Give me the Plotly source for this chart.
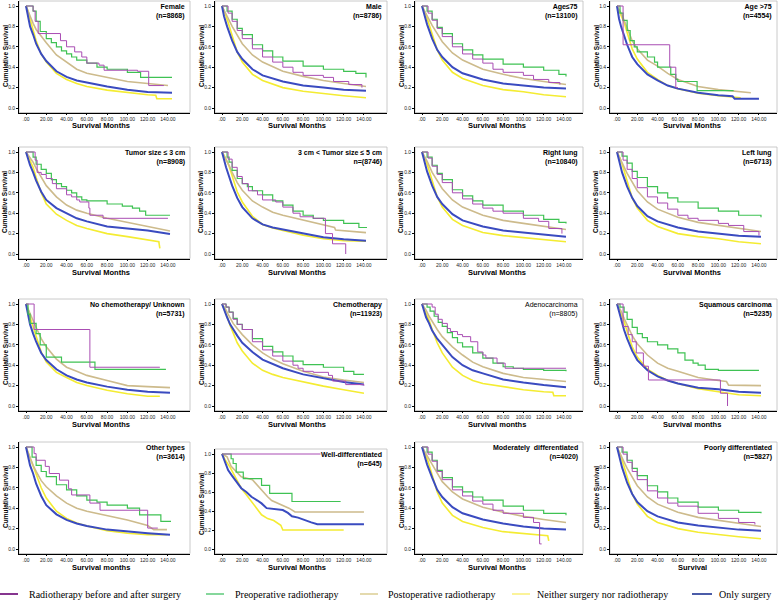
import plotly.graph_objects as go

# ---------------- data (months, cumulative survival) ----------------
PANEL_LABELS = ["Female", "Male", "Age≤75", "Age >75",
                "Tumor size ≤ 3 cm", "3 cm < Tumor size ≤ 5 cm", "Right lung", "Left lung",
                "No chemotherapy/ Unknown", "Chemotherapy", "Adenocarcinoma", "Squamous carcinoma",
                "Other types", "Well-differentiated", "Moderately  differentiated", "Poorly differentiated"]
N_LABELS = ["(n=8868)", "(n=8786)", "(n=13100)", "(n=4554)",
            "(n=8908)", "n=(8746)", "(n=10840)", "(n=6713)",
            "(n=5731)", "(n=11923)", "(n=8805)", "(n=5235)",
            "(n=3614)", "(n=645)", "(n=4020)", "(n=5827)"]
X_TITLES = ["Survival Months"] * 10 + ["Survival months", "Survival months",
            "Survival months", "Survival Months", "Survival Months", "Survival"]
SERIES_NAMES = ["Radiotherapy before and after surgery", "Preoperative radiotherapy",
                "Postoperative radiotherapy", "Neither surgery nor radiotherapy", "Only surgery"]
X_TICKS = [0, 20, 40, 60, 80, 100, 120, 140]
X_TICK_TEXT = [".00", "20.00", "40.00", "60.00", "80.00", "100.00", "120.00", "140.00"]
Y_TICKS = [0, 0.2, 0.4, 0.6, 0.8, 1.0]
Y_TICK_TEXT = ["0.0", "0.2", "0.4", "0.6", "0.8", "1.0"]

# Radiotherapy before and after surgery (purple)
BOTH = [
    [(0,1),(7,0.95),(9,0.85),(12,0.73),(34,0.66),(40,0.6),(48,0.55),(55,0.5),(60,0.44),(72,0.42),(77,0.37),(110,0.36),(121,0.22),(136,0.22)],
    [(0,1),(6,0.93),(10,0.85),(15,0.76),(20,0.68),(30,0.58),(40,0.5),(50,0.45),(60,0.4),(70,0.35),(80,0.32),(100,0.3),(110,0.26),(125,0.23),(138,0.2)],
    [(0,1),(6,0.93),(10,0.86),(15,0.78),(20,0.7),(30,0.6),(40,0.53),(50,0.48),(60,0.44),(70,0.38),(80,0.35),(100,0.32),(110,0.28),(125,0.25),(136,0.23)],
    [(0,1),(6,0.62),(52,0.4),(58,0.2),(60,0.2)],
    [(0,1),(9,0.92),(11,0.8),(15,0.78),(20,0.74),(26,0.69),(30,0.64),(40,0.58),(45,0.56),(50,0.53),(53,0.51),(62,0.45),(63,0.38),(76,0.35),(140,0.35)],
    [(0,1),(6,0.93),(10,0.85),(15,0.76),(20,0.69),(26,0.62),(35,0.58),(40,0.53),(53,0.51),(60,0.46),(70,0.4),(77,0.365),(90,0.35),(102,0.2),(109,0.1),(122,0.0)],
    [(0,1),(6,0.94),(10,0.86),(15,0.78),(20,0.7),(30,0.6),(40,0.54),(50,0.49),(60,0.45),(70,0.42),(80,0.4),(100,0.35),(115,0.32),(125,0.25),(138,0.2)],
    [(0,1),(6,0.92),(10,0.83),(15,0.74),(20,0.65),(30,0.56),(40,0.5),(50,0.44),(60,0.38),(70,0.35),(80,0.33),(100,0.3),(110,0.28),(125,0.22),(140,0.18)],
    [(0,1),(8,0.75),(63,0.38),(132,0.38)],
    [(0,1),(4,0.97),(7,0.92),(11,0.85),(15,0.8),(20,0.75),(30,0.63),(40,0.55),(50,0.49),(60,0.44),(70,0.4),(75,0.37),(80,0.34),(90,0.33),(105,0.3),(109,0.245),(122,0.21),(140,0.2)],
    [(0,1),(10,0.97),(13,0.9),(16,0.85),(20,0.81),(25,0.76),(28,0.73),(35,0.7),(40,0.68),(48,0.63),(55,0.53),(60,0.5),(63,0.47),(74,0.42),(82,0.37),(142,0.37)],
    [(0,1),(6,0.78),(11,0.70),(15,0.63),(19,0.52),(26,0.39),(31,0.255),(102,0.125),(109,0.0)],
    [(0,1),(8,0.935),(10,0.87),(19,0.81),(23,0.74),(33,0.675),(42,0.59),(45,0.53),(63,0.45),(73,0.38),(120,0.205),(130,0.205)],
    [(0,1),(105,1.0)],
    [(0,1),(6,0.93),(10,0.86),(15,0.76),(20,0.68),(30,0.58),(40,0.52),(50,0.47),(60,0.44),(70,0.38),(80,0.35),(100,0.31),(110,0.26),(116,0.05),(118,0.05)],
    [(0,1),(6,0.93),(10,0.85),(15,0.76),(20,0.68),(30,0.57),(40,0.5),(50,0.45),(60,0.42),(80,0.35),(100,0.3),(120,0.26),(136,0.24)],
]
# Preoperative radiotherapy (green)
PRE = [
    [(0,1),(7,0.95),(10,0.85),(14,0.75),(20,0.68),(25,0.64),(30,0.6),(35,0.56),(40,0.53),(45,0.5),(50,0.47),(60,0.44),(70,0.4),(80,0.38),(100,0.35),(113,0.30),(144,0.30)],
    [(0,1),(5,0.95),(10,0.87),(15,0.78),(20,0.72),(30,0.62),(40,0.56),(50,0.5),(60,0.46),(80,0.41),(100,0.38),(120,0.36),(132,0.34),(142,0.3)],
    [(0,1),(5,0.95),(10,0.87),(15,0.79),(20,0.73),(30,0.63),(40,0.57),(50,0.52),(60,0.48),(80,0.43),(100,0.4),(120,0.37),(135,0.33),(142,0.31)],
    [(0,1),(3,0.93),(6,0.86),(10,0.76),(13,0.66),(17,0.6),(20,0.55),(30,0.5),(37,0.45),(40,0.4),(53,0.33),(58,0.28),(60,0.26),(79,0.17),(115,0.17)],
    [(0,1),(7,0.95),(10,0.88),(15,0.83),(20,0.79),(25,0.73),(30,0.69),(35,0.66),(40,0.625),(45,0.6),(50,0.56),(55,0.53),(60,0.52),(80,0.49),(95,0.47),(105,0.45),(112,0.42),(118,0.38),(142,0.38)],
    [(0,1),(5,0.95),(7,0.9),(10,0.82),(15,0.74),(20,0.69),(25,0.66),(30,0.62),(40,0.58),(50,0.52),(60,0.48),(70,0.42),(80,0.38),(90,0.35),(100,0.33),(120,0.30),(135,0.26),(143,0.26)],
    [(0,1),(5,0.95),(10,0.87),(15,0.79),(20,0.73),(30,0.63),(40,0.57),(50,0.52),(60,0.48),(80,0.42),(100,0.38),(120,0.34),(135,0.31),(142,0.3)],
    [(0,1),(5,0.96),(10,0.89),(15,0.81),(20,0.75),(30,0.66),(40,0.6),(50,0.55),(60,0.51),(80,0.45),(100,0.42),(120,0.38),(142,0.36)],
    [(0,1),(2,0.9),(4,0.81),(10,0.71),(14,0.6),(20,0.48),(35,0.43),(68,0.36),(138,0.36)],
    [(0,1),(4,0.97),(7,0.92),(11,0.86),(15,0.8),(20,0.75),(30,0.66),(40,0.585),(50,0.53),(60,0.49),(70,0.44),(80,0.405),(100,0.38),(120,0.34),(130,0.31),(140,0.31)],
    [(0,1),(5,0.97),(8,0.93),(12,0.88),(16,0.82),(20,0.78),(25,0.72),(30,0.67),(35,0.62),(40,0.58),(50,0.52),(60,0.47),(70,0.42),(80,0.385),(90,0.37),(100,0.36),(120,0.35),(142,0.34)],
    [(0,1),(3,0.97),(7,0.92),(10,0.85),(15,0.77),(20,0.71),(25,0.67),(30,0.63),(40,0.6),(50,0.56),(60,0.52),(67,0.45),(75,0.42),(80,0.40),(87,0.36),(100,0.35),(140,0.35)],
    [(0,1),(6,0.9),(10,0.82),(15,0.76),(20,0.71),(30,0.63),(40,0.58),(50,0.52),(60,0.48),(70,0.46),(80,0.43),(100,0.40),(112,0.335),(133,0.27),(143,0.27)],
    [(0,1),(9,0.95),(11,0.90),(14,0.81),(21,0.74),(39,0.67),(47,0.585),(69,0.50),(117,0.50)],
    [(0,1),(5,0.95),(10,0.87),(15,0.77),(20,0.7),(30,0.61),(40,0.56),(50,0.51),(60,0.48),(80,0.42),(100,0.38),(120,0.35),(142,0.33)],
    [(0,1),(5,0.95),(10,0.87),(15,0.79),(20,0.72),(30,0.62),(40,0.56),(50,0.5),(60,0.46),(80,0.41),(100,0.38),(120,0.36),(142,0.35)],
]
# Postoperative radiotherapy (tan)
POST = [
    [(0,1),(3,0.92),(7,0.83),(10,0.77),(15,0.7),(20,0.64),(30,0.52),(40,0.45),(50,0.38),(60,0.34),(80,0.30),(100,0.26),(120,0.24),(140,0.22)],
    [(0,1),(5,0.9),(10,0.8),(20,0.63),(30,0.52),(40,0.45),(60,0.36),(80,0.31),(100,0.27),(120,0.24),(142,0.21)],
    [(0,1),(5,0.91),(10,0.81),(20,0.65),(30,0.54),(40,0.47),(60,0.38),(80,0.33),(100,0.29),(120,0.26),(142,0.23)],
    [(0,1),(4,0.93),(7,0.86),(10,0.78),(15,0.66),(20,0.58),(30,0.47),(40,0.41),(50,0.34),(60,0.28),(80,0.21),(100,0.18),(120,0.16),(132,0.15)],
    [(0,1),(4,0.94),(7,0.9),(10,0.84),(15,0.75),(20,0.67),(30,0.56),(40,0.48),(50,0.43),(60,0.4),(80,0.35),(100,0.31),(120,0.27),(142,0.225)],
    [(0,1),(4,0.93),(7,0.87),(10,0.8),(15,0.7),(20,0.625),(30,0.52),(40,0.46),(50,0.41),(60,0.38),(80,0.33),(100,0.28),(111,0.26),(112,0.235),(142,0.21)],
    [(0,1),(5,0.91),(10,0.8),(20,0.64),(30,0.53),(40,0.46),(60,0.38),(80,0.33),(100,0.3),(120,0.27),(142,0.24)],
    [(0,1),(5,0.9),(10,0.79),(20,0.62),(30,0.51),(40,0.44),(60,0.36),(80,0.31),(100,0.28),(120,0.25),(142,0.22)],
    [(0,1),(2,0.95),(4,0.9),(7,0.84),(10,0.77),(15,0.66),(20,0.58),(30,0.46),(40,0.38),(50,0.34),(60,0.30),(80,0.25),(100,0.2),(120,0.19),(142,0.18)],
    [(0,1),(3,0.96),(6,0.9),(11,0.81),(15,0.76),(20,0.70),(30,0.6),(40,0.52),(50,0.46),(60,0.415),(80,0.34),(100,0.285),(120,0.255),(140,0.23)],
    [(0,1),(4,0.94),(7,0.88),(10,0.83),(15,0.75),(20,0.68),(30,0.58),(40,0.5),(50,0.43),(60,0.385),(80,0.32),(100,0.28),(120,0.26),(142,0.24)],
    [(0,1),(4,0.93),(7,0.86),(10,0.8),(15,0.69),(20,0.61),(30,0.5),(40,0.42),(50,0.37),(60,0.34),(80,0.28),(100,0.25),(108,0.24),(110,0.205),(142,0.2)],
    [(0,1),(3,0.92),(7,0.82),(10,0.76),(15,0.67),(20,0.61),(30,0.52),(40,0.45),(50,0.4),(60,0.37),(80,0.325),(100,0.285),(120,0.23),(126,0.19),(139,0.19)],
    [(0,1),(5,0.97),(9,0.87),(14,0.81),(19,0.76),(30,0.73),(39,0.62),(45,0.55),(49,0.51),(60,0.46),(66,0.43),(72,0.39),(140,0.39)],
    [(0,1),(5,0.92),(10,0.83),(20,0.66),(30,0.56),(40,0.49),(60,0.41),(80,0.36),(100,0.32),(120,0.29),(142,0.26)],
    [(0,1),(5,0.9),(10,0.79),(20,0.62),(30,0.51),(40,0.44),(60,0.36),(80,0.31),(100,0.28),(120,0.25),(142,0.22)],
]
# Neither surgery nor radiotherapy (yellow)
NEITHER = [
    [(0,1),(2,0.95),(4,0.87),(7,0.76),(10,0.66),(15,0.53),(20,0.45),(30,0.34),(40,0.28),(50,0.24),(60,0.21),(80,0.175),(100,0.15),(120,0.13),(128,0.125),(129,0.09),(144,0.09)],
    [(0,1),(3,0.93),(6,0.84),(10,0.7),(15,0.55),(20,0.45),(30,0.33),(40,0.27),(60,0.2),(80,0.165),(100,0.14),(120,0.12),(142,0.1)],
    [(0,1),(3,0.94),(6,0.85),(10,0.72),(15,0.57),(20,0.47),(30,0.35),(40,0.29),(60,0.22),(80,0.18),(100,0.16),(120,0.13),(142,0.11)],
    [(0,1),(3,0.93),(7,0.84),(10,0.74),(15,0.58),(20,0.48),(30,0.35),(40,0.28),(50,0.22),(60,0.19),(80,0.145),(100,0.12),(122,0.1)],
    [(0,1),(3,0.94),(7,0.85),(10,0.75),(15,0.6),(20,0.49),(30,0.39),(40,0.33),(50,0.28),(60,0.25),(80,0.2),(100,0.17),(120,0.14),(131,0.12),(132,0.055)],
    [(0,1),(3,0.95),(7,0.86),(10,0.76),(15,0.61),(20,0.51),(30,0.37),(40,0.29),(50,0.255),(60,0.23),(80,0.185),(100,0.15),(120,0.13),(142,0.125)],
    [(0,1),(3,0.94),(6,0.85),(10,0.71),(15,0.56),(20,0.46),(30,0.34),(40,0.28),(60,0.21),(80,0.18),(100,0.16),(120,0.14),(142,0.12)],
    [(0,1),(3,0.94),(6,0.85),(10,0.71),(15,0.55),(20,0.45),(30,0.33),(40,0.27),(60,0.2),(80,0.17),(100,0.15),(120,0.12),(142,0.1)],
    [(0,1),(2,0.95),(4,0.87),(7,0.78),(10,0.67),(15,0.53),(20,0.43),(30,0.33),(40,0.28),(50,0.23),(60,0.2),(80,0.155),(100,0.12),(120,0.095),(132,0.095)],
    [(0,1),(3,0.93),(5,0.88),(8,0.79),(11,0.71),(15,0.62),(20,0.54),(30,0.42),(40,0.35),(50,0.31),(60,0.28),(80,0.235),(100,0.195),(120,0.16),(140,0.125)],
    [(0,1),(3,0.93),(7,0.84),(10,0.75),(15,0.62),(20,0.52),(30,0.38),(40,0.30),(50,0.25),(60,0.22),(80,0.19),(100,0.16),(120,0.14),(129,0.135),(130,0.10),(142,0.10)],
    [(0,1),(3,0.93),(7,0.83),(10,0.73),(15,0.58),(20,0.48),(30,0.36),(40,0.30),(50,0.25),(60,0.22),(80,0.17),(100,0.14),(120,0.11),(142,0.10)],
    [(0,1),(3,0.92),(7,0.82),(10,0.73),(15,0.6),(20,0.5),(30,0.37),(40,0.30),(50,0.255),(60,0.225),(80,0.18),(100,0.155),(120,0.14),(139,0.14)],
    [(0,1),(3,0.94),(8,0.86),(13,0.76),(19,0.64),(24,0.57),(29,0.50),(35,0.42),(39,0.36),(45,0.32),(51,0.30),(58,0.25),(60,0.20),(120,0.20)],
    [(0,1),(3,0.94),(6,0.86),(10,0.72),(15,0.56),(20,0.45),(30,0.33),(40,0.27),(60,0.21),(80,0.17),(100,0.15),(120,0.135),(124,0.13),(125,0.08)],
    [(0,1),(3,0.93),(6,0.84),(10,0.7),(15,0.54),(20,0.44),(30,0.32),(40,0.26),(60,0.2),(80,0.165),(100,0.14),(120,0.12),(142,0.1)],
]
# Only surgery (blue)
ONLY = [
    [(0,1),(1,0.95),(2,0.88),(4,0.8),(7,0.72),(10,0.63),(15,0.53),(20,0.46),(30,0.36),(40,0.305),(50,0.27),(60,0.25),(80,0.21),(100,0.18),(120,0.157),(144,0.15)],
    [(0,1),(2,0.9),(5,0.8),(10,0.66),(15,0.55),(20,0.48),(30,0.38),(40,0.32),(60,0.26),(80,0.22),(100,0.2),(120,0.18),(142,0.17)],
    [(0,1),(2,0.92),(5,0.82),(10,0.68),(15,0.57),(20,0.5),(30,0.4),(40,0.34),(60,0.28),(80,0.24),(100,0.22),(120,0.2),(142,0.19)],
    [(0,1),(1,0.94),(2,0.875),(4,0.8),(7,0.71),(10,0.62),(15,0.5),(20,0.43),(30,0.33),(40,0.27),(50,0.22),(60,0.19),(80,0.15),(100,0.125),(114,0.115),(116,0.09),(140,0.09)],
    [(0,1),(2,0.935),(4,0.87),(7,0.8),(10,0.72),(15,0.61),(20,0.53),(30,0.45),(40,0.40),(50,0.35),(60,0.32),(80,0.27),(100,0.25),(120,0.23),(142,0.195)],
    [(0,1),(1,0.96),(2,0.92),(4,0.85),(7,0.76),(10,0.67),(15,0.55),(20,0.46),(30,0.35),(40,0.29),(50,0.26),(60,0.24),(80,0.2),(100,0.165),(120,0.145),(142,0.13)],
    [(0,1),(2,0.92),(5,0.81),(10,0.67),(15,0.56),(20,0.49),(30,0.39),(40,0.33),(60,0.27),(80,0.23),(100,0.21),(120,0.19),(142,0.17)],
    [(0,1),(2,0.91),(5,0.8),(10,0.66),(15,0.55),(20,0.47),(30,0.37),(40,0.32),(60,0.26),(80,0.22),(100,0.2),(120,0.18),(142,0.17)],
    [(0,1),(1,0.94),(2,0.89),(4,0.8),(7,0.71),(10,0.63),(15,0.52),(20,0.45),(30,0.36),(40,0.30),(50,0.26),(60,0.23),(80,0.19),(100,0.16),(120,0.14),(142,0.13)],
    [(0,1),(2,0.94),(5,0.87),(8,0.8),(11,0.75),(15,0.69),(20,0.62),(30,0.53),(40,0.455),(50,0.41),(60,0.37),(80,0.31),(100,0.27),(120,0.235),(140,0.21)],
    [(0,1),(2,0.92),(4,0.87),(7,0.81),(10,0.74),(15,0.66),(20,0.6),(30,0.48),(40,0.40),(50,0.35),(60,0.32),(80,0.26),(100,0.23),(120,0.205),(142,0.185)],
    [(0,1),(1,0.96),(2,0.92),(4,0.84),(7,0.745),(10,0.66),(15,0.54),(20,0.45),(30,0.35),(40,0.29),(50,0.25),(60,0.22),(80,0.18),(100,0.165),(120,0.14),(142,0.13)],
    [(0,1),(1,0.95),(2,0.9),(4,0.82),(7,0.74),(10,0.64),(15,0.52),(20,0.43),(30,0.34),(40,0.285),(50,0.25),(60,0.225),(80,0.19),(100,0.17),(120,0.155),(142,0.14)],
    [(0,1),(1,0.97),(3,0.92),(6,0.83),(10,0.77),(13,0.725),(19,0.64),(24,0.6),(29,0.55),(35,0.51),(39,0.48),(44,0.43),(60,0.41),(65,0.38),(69,0.345),(75,0.33),(82,0.30),(88,0.28),(94,0.26),(140,0.26)],
    [(0,1),(2,0.93),(5,0.83),(10,0.7),(15,0.58),(20,0.51),(30,0.41),(40,0.35),(60,0.29),(80,0.25),(100,0.22),(120,0.2),(142,0.19)],
    [(0,1),(2,0.91),(5,0.8),(10,0.65),(15,0.54),(20,0.46),(30,0.37),(40,0.32),(60,0.26),(80,0.23),(100,0.21),(120,0.19),(142,0.18)],
]

# ---------------- styling / layout ----------------
COLORS = {"both": "#A94DB3", "pre": "#3FC253", "post": "#CDBB8C", "neither": "#F4EC32", "only": "#3A4BC0"}
LEGEND_COLORS = ["#86358F", "#86D79C", "#E4DAAE", "#FBF39A", "#4B5CA8"]
W, H = 778, 606
X0 = [26, 222, 422, 617]          # pixel of month 0 per column
RIGHT = [190, 387, 583, 777]      # right frame edge per column
Y1 = [6, 152, 304, 447]           # pixel of survival 1.0 per row
XS = 1.014                        # px per month
YS = 102.0                        # px per unit survival

fig = go.Figure()
AX = "Arial, Liberation Sans, sans-serif"

for i in range(16):
    r, c = divmod(i, 4)
    k = i + 1
    x0 = X0[c]
    y1 = Y1[r]
    ys = YS
    if i == 13:
        y1, ys = 454, 95.0
    y0 = y1 + ys
    left, right = x0 - 7, RIGHT[c]
    top, bottom = y1 - 5, y0 + 4.5
    xr = [(left - x0) / XS, (right - x0) / XS]
    yr = [-(bottom - y0) / ys, 1 + (y1 - top) / ys]
    xa, ya = ("xaxis" if k == 1 else f"xaxis{k}"), ("yaxis" if k == 1 else f"yaxis{k}")
    xid, yid = ("x" if k == 1 else f"x{k}"), ("y" if k == 1 else f"y{k}")
    common = dict(showline=True, linecolor="black", linewidth=0.8, ticks="outside", ticklen=2,
                  tickwidth=0.6, tickcolor="black", showgrid=False, zeroline=False,
                  tickfont=dict(size=5, family=AX, color="#222"), fixedrange=True)
    fig.update_layout(**{
        xa: dict(domain=[left / W, right / W], anchor=yid, range=xr,
                 tickvals=X_TICKS, ticktext=X_TICK_TEXT, **common),
        ya: dict(domain=[1 - bottom / H, 1 - top / H], anchor=xid, range=yr,
                 tickvals=Y_TICKS, ticktext=Y_TICK_TEXT, **common),
    })
    # grey frame
    fig.add_shape(type="rect", xref=f"{xid} domain", yref=f"{yid} domain", x0=0, x1=1, y0=0, y1=1,
                  line=dict(color="#BDBDBD", width=0.8), layer="below")
    series = [("neither", NEITHER[i], "linear", 1.6), ("post", POST[i], "linear", 1.6),
              ("only", ONLY[i], "linear", 2.0), ("pre", PRE[i], "hv", 1.2), ("both", BOTH[i], "hv", 1.0)]
    for key, pts, shape, lw in series:
        fig.add_trace(go.Scatter(x=[p[0] for p in pts], y=[p[1] for p in pts], mode="lines",
                                 line=dict(color=COLORS[key], width=lw, shape=shape),
                                 xaxis=xid, yaxis=yid, showlegend=False, hoverinfo="skip"))
    bold = i != 10
    lab = PANEL_LABELS[i] + "<br>" + N_LABELS[i]
    if bold:
        lab = "<b>" + PANEL_LABELS[i] + "</b><br><b>" + N_LABELS[i] + "</b>"
    fig.add_annotation(x=(right - 4) / W, y=1 - (top + 1) / H, xref="paper", yref="paper",
                       text=lab, showarrow=False, xanchor="right", yanchor="top", align="right",
                       font=dict(size=7, family=AX, color="black"), bgcolor="white" if i == 13 else None,
                       borderpad=0)
    fig.add_annotation(x=(x0 + 75) / W, y=1 - (y0 + 18) / H, xref="paper", yref="paper",
                       text="<b>" + X_TITLES[i] + "</b>", showarrow=False, xanchor="center", yanchor="middle",
                       font=dict(size=7.5, family=AX, color="black"))
    fig.add_annotation(x=(x0 - 21) / W, y=1 - (y1 + 50) / H, xref="paper", yref="paper",
                       text="<b>Cumulative Survival</b>", showarrow=False, textangle=-90,
                       xanchor="center", yanchor="middle", font=dict(size=6.5, family=AX, color="black"))

# legend at the bottom (drawn as lines + text)
LEG_LINES = [(0, 18), (206, 224), (360, 378), (512, 530), (692, 712)]
LEG_TEXT_X = [27, 233, 386, 535, 717]
LEG_Y = 594
for j, name in enumerate(SERIES_NAMES):
    a, b = LEG_LINES[j]
    fig.add_shape(type="line", xref="paper", yref="paper", x0=a / W, x1=b / W,
                  y0=1 - LEG_Y / H, y1=1 - LEG_Y / H, line=dict(color=LEGEND_COLORS[j], width=2))
    fig.add_annotation(x=LEG_TEXT_X[j] / W, y=1 - LEG_Y / H, xref="paper", yref="paper", text=name,
                       showarrow=False, xanchor="left", yanchor="middle",
                       font=dict(size=10, family="Times New Roman, Liberation Serif, serif", color="black"))

fig.update_layout(width=W, height=H, margin=dict(l=0, r=0, t=0, b=0),
                  paper_bgcolor="white", plot_bgcolor="white", showlegend=False)
fig.write_html("out.html", config={"displayModeBar": False},
               post_script="document.body.style.margin='0';document.body.style.overflow='hidden';")
